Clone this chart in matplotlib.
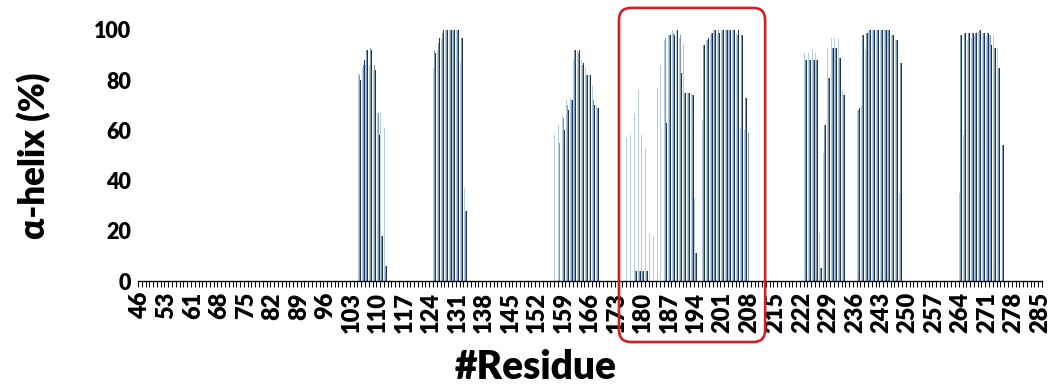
import numpy as np
import matplotlib
matplotlib.use("Agg")
import matplotlib.pyplot as plt
from matplotlib.patches import FancyBboxPatch
from matplotlib.transforms import IdentityTransform

plt.rcParams['font.family'] = ['Lato', 'DejaVu Sans']
plt.rcParams['font.weight'] = 'heavy'

# residues on the x axis (57 is absent in the original)
residues = list(range(46, 57)) + list(range(58, 286))

# helical segments: first residue of each segment and per-residue helix %
seg_start = [105, 125, 157, 176, 223, 237, 264]
light = [
    [83, 85, 86, 86, 84, 67, 67, 61],
    [85, 92, 97, 100, 100, 100, 100, 87, 37],
    [58, 62, 66, 72, 73, 88, 92, 88, 85, 82, 78, 70],
    [57, 58, 67, 76, 58, 53, 19, 18, 77, 86, 96, 98, 100, 100, 97, 95, 75,
     75, 33, 0, 64, 96, 98, 100, 99, 100, 100, 100, 100, 99, 61, 60, 0],
    [91, 91, 92, 91, 19, 51, 93, 97, 97, 97, 76],
    [68, 70, 92, 100, 100, 100, 100, 100, 100, 98, 96, 35],
    [35, 58, 96, 97, 98, 99, 99, 98, 98, 98, 93, 0],
]
mid = [
    [82, 86, 92, 93, 86, 67, 18, 6],
    [92, 95, 99, 100, 100, 100, 100, 97, 28],
    [0, 55, 65, 70, 72, 92, 91, 86, 82, 80, 72, 69],
    [0, 0, 4, 4, 4, 4, 0, 0, 0, 0, 97, 98, 99, 99, 98, 75, 75,
     74, 11, 0, 94, 96, 99, 100, 100, 100, 100, 100, 100, 98, 98, 73, 59],
    [88, 88, 88, 88, 5, 62, 81, 93, 93, 89, 74],
    [68, 98, 99, 100, 100, 100, 100, 100, 100, 98, 96, 87],
    [98, 99, 99, 99, 99, 100, 99, 99, 98, 93, 85, 54],
]
dark = [
    [80, 88, 92, 92, 84, 58, 18, 6],
    [91, 97, 100, 100, 100, 100, 100, 97, 28],
    [0, 0, 60, 68, 72, 92, 92, 87, 82, 82, 70, 69],
    [0, 0, 4, 4, 4, 4, 0, 0, 0, 0, 63, 98, 98, 100, 83, 75, 75,
     74, 11, 0, 94, 97, 99, 100, 99, 100, 100, 100, 100, 100, 98, 73, 0],
    [88, 88, 88, 88, 5, 62, 81, 93, 93, 89, 74],
    [69, 98, 99, 100, 100, 100, 100, 100, 100, 98, 96, 87],
    [98, 99, 99, 99, 99, 100, 99, 99, 94, 93, 85, 54],
]


def full_series(segs):
    vals = np.zeros(len(residues))
    for start, seg in zip(seg_start, segs):
        i0 = residues.index(start)
        vals[i0:i0 + len(seg)] = seg
    return vals


series = [full_series(light), full_series(mid), full_series(dark)]
colors = ['#b7cde4', '#7f9bbb', '#1f3658']

fig = plt.figure(figsize=(10.55, 3.87), dpi=100)
ax = fig.add_axes([138 / 1055, 1 - 281 / 387, (1042 - 138) / 1055, (281 - 30) / 387])

x = np.arange(len(residues))
w = 0.26
for k, (vals, c) in enumerate(zip(series, colors)):
    ax.bar(x + (k - 1) * w, vals, width=w, color=c, linewidth=0)

ax.set_xlim(-0.5, len(residues) - 0.5)
ax.set_ylim(0, 100)
ax.set_yticks(range(0, 101, 20))
ax.tick_params(axis='y', length=0, labelsize=15.5, pad=5)

lab_idx = x[::7]
ax.set_xticks(lab_idx)
ax.set_xticklabels([str(residues[i]) for i in lab_idx], rotation=90, fontsize=17)
ax.set_xticks(np.arange(len(residues) + 1) - 0.5, minor=True)
ax.tick_params(axis='x', which='major', length=0, pad=8)
ax.tick_params(axis='x', which='minor', length=4.5, width=0.7, direction='out')

for s in ['top', 'right', 'left']:
    ax.spines[s].set_visible(False)
ax.spines['bottom'].set_linewidth(1.0)

ax.set_ylabel('α-helix (%)', fontsize=25, fontweight='heavy', labelpad=31)
ax.set_xlabel('#Residue', fontsize=28, fontweight='heavy', labelpad=6)
ax.xaxis.set_label_coords(0.44, -0.27)
ax.xaxis.label.set_va('top')

# red highlight box around the 176-208 region
(px0, py0) = ax.transData.transform((residues.index(173) + 0.66, -24.3))
(px1, py1) = ax.transData.transform((residues.index(212) + 0.3, 108.8))
box = FancyBboxPatch((px0, py0), px1 - px0, py1 - py0,
                     boxstyle='round,pad=0,rounding_size=12',
                     transform=IdentityTransform(), fill=False,
                     edgecolor='#d0201f', linewidth=1.9, clip_on=False)
fig.add_artist(box)

fig.savefig('out.png', dpi=100)
